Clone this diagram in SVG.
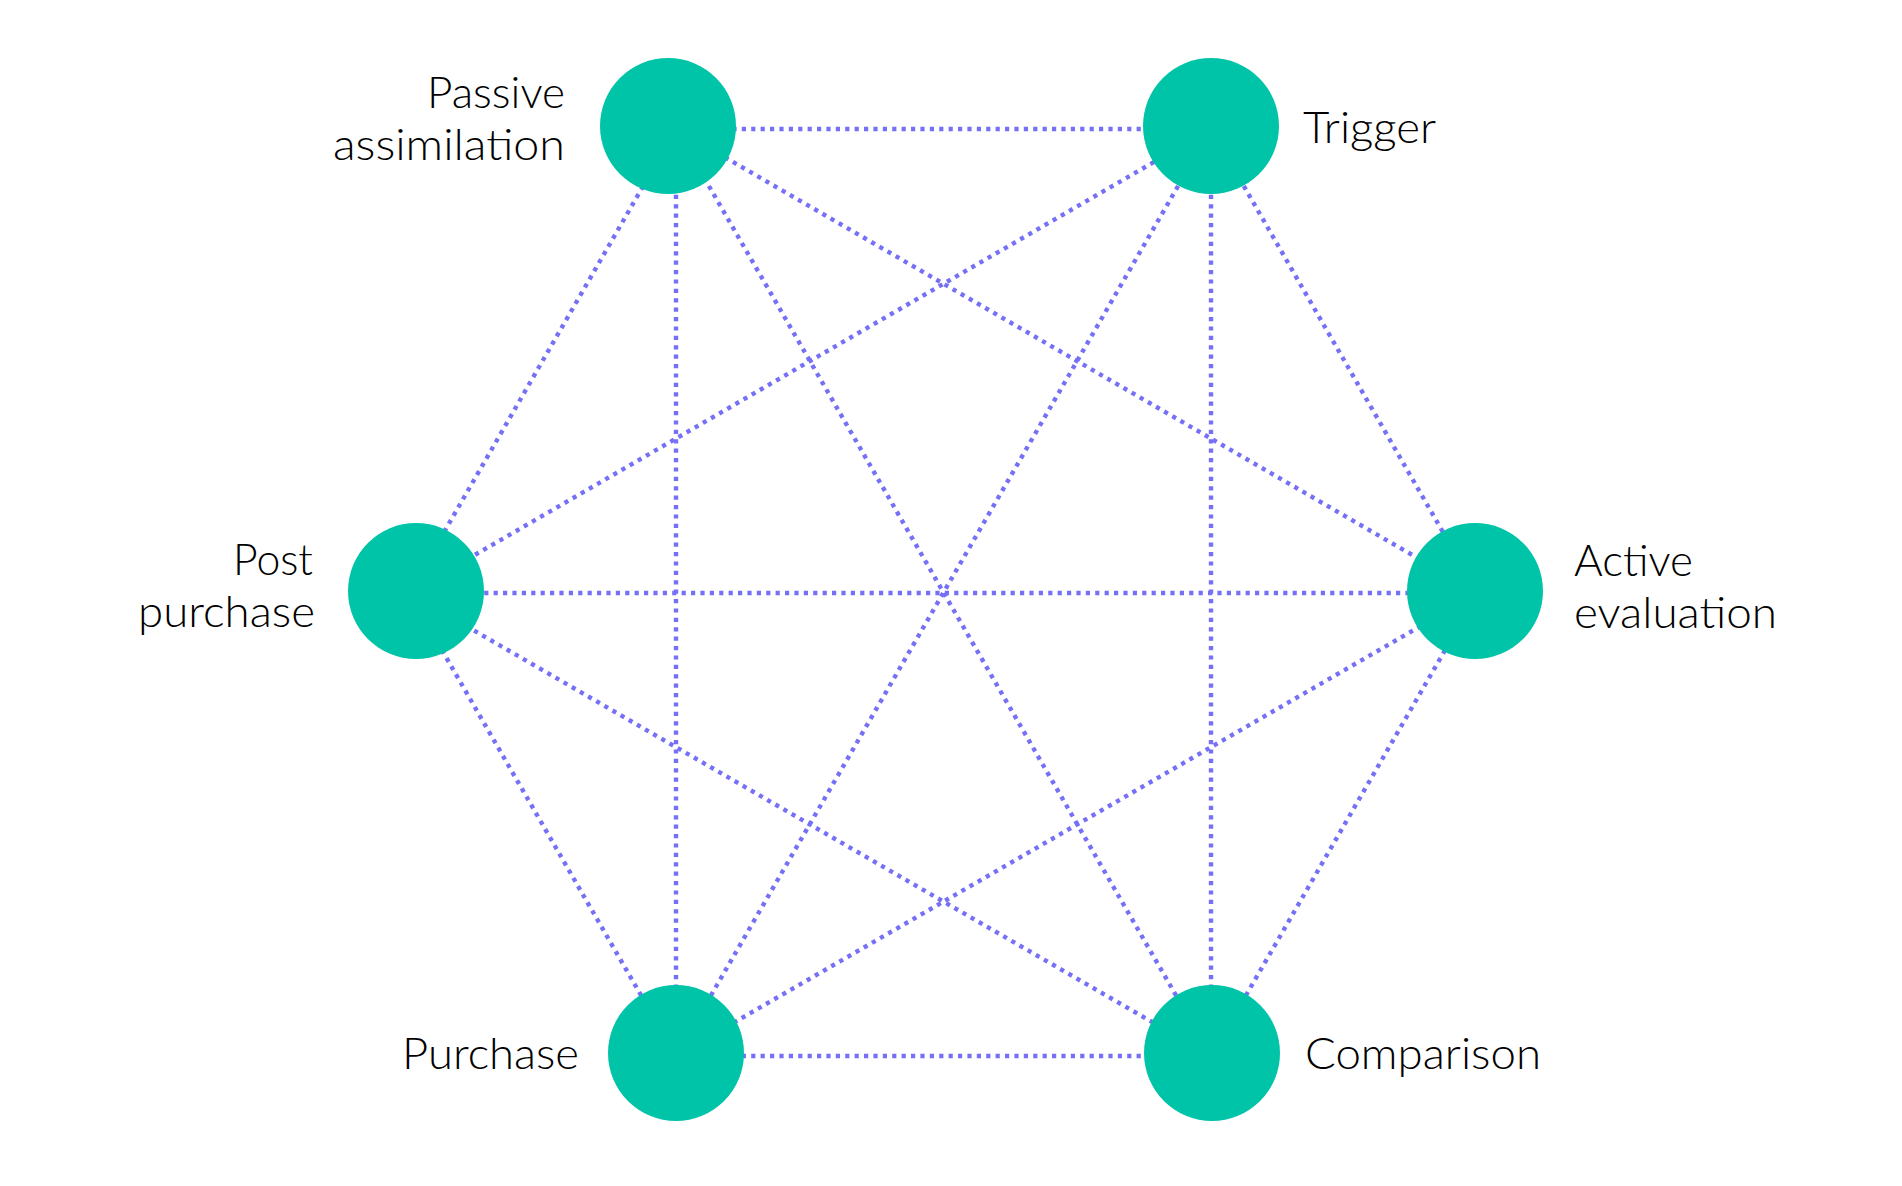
<svg xmlns="http://www.w3.org/2000/svg" width="1902" height="1186" viewBox="0 0 1902 1186">
<style>
.edge{stroke:#7670f6;stroke-width:4.4;stroke-dasharray:4.2 5.2;fill:none}
.node{fill:#00c4a7}
.lbl{font-family:Lato,"Noto Sans","Liberation Sans",sans-serif;font-size:43px;font-weight:300;fill:#000}
.r{text-anchor:end}
</style>
<rect width="1902" height="1186" fill="#fff"/>
<g id="connectors">
<line class="edge" x1="676" y1="129" x2="1211" y2="129"/>
<line class="edge" x1="676" y1="129" x2="409" y2="593"/>
<line class="edge" x1="676" y1="129" x2="676" y2="1056"/>
<line class="edge" x1="676" y1="129" x2="1211" y2="1056"/>
<line class="edge" x1="676" y1="129" x2="1478" y2="593"/>
<line class="edge" x1="1211" y1="129" x2="409" y2="593"/>
<line class="edge" x1="1211" y1="129" x2="676" y2="1056"/>
<line class="edge" x1="1211" y1="129" x2="1211" y2="1056"/>
<line class="edge" x1="1211" y1="129" x2="1478" y2="593"/>
<line class="edge" x1="409" y1="593" x2="1478" y2="593"/>
<line class="edge" x1="409" y1="593" x2="676" y2="1056"/>
<line class="edge" x1="409" y1="593" x2="1211" y2="1056"/>
<line class="edge" x1="1478" y1="593" x2="676" y2="1056"/>
<line class="edge" x1="1478" y1="593" x2="1211" y2="1056"/>
<line class="edge" x1="676" y1="1056" x2="1211" y2="1056"/>
</g>
<g id="passive-assimilation">
<circle class="node" cx="668" cy="126" r="68"/>
<text class="lbl r" x="565" y="108" textLength="138" lengthAdjust="spacingAndGlyphs">Passive</text>
<text class="lbl r" x="565" y="160" textLength="232" lengthAdjust="spacingAndGlyphs">assimilation</text>
</g>
<g id="trigger">
<circle class="node" cx="1211" cy="126" r="68"/>
<text class="lbl" x="1303" y="143" textLength="133" lengthAdjust="spacingAndGlyphs">Trigger</text>
</g>
<g id="post-purchase">
<circle class="node" cx="416" cy="591" r="68"/>
<text class="lbl r" x="313" y="575" textLength="80" lengthAdjust="spacingAndGlyphs">Post</text>
<text class="lbl r" x="315" y="627" textLength="177" lengthAdjust="spacingAndGlyphs">purchase</text>
</g>
<g id="active-evaluation">
<circle class="node" cx="1475" cy="591" r="68"/>
<text class="lbl" x="1574" y="576" textLength="119" lengthAdjust="spacingAndGlyphs">Active</text>
<text class="lbl" x="1574" y="628" textLength="203" lengthAdjust="spacingAndGlyphs">evaluation</text>
</g>
<g id="purchase">
<circle class="node" cx="676" cy="1053" r="68"/>
<text class="lbl r" x="579" y="1069" textLength="177" lengthAdjust="spacingAndGlyphs">Purchase</text>
</g>
<g id="comparison">
<circle class="node" cx="1212" cy="1053" r="68"/>
<text class="lbl" x="1305" y="1069" textLength="236" lengthAdjust="spacingAndGlyphs">Comparison</text>
</g>
</svg>
